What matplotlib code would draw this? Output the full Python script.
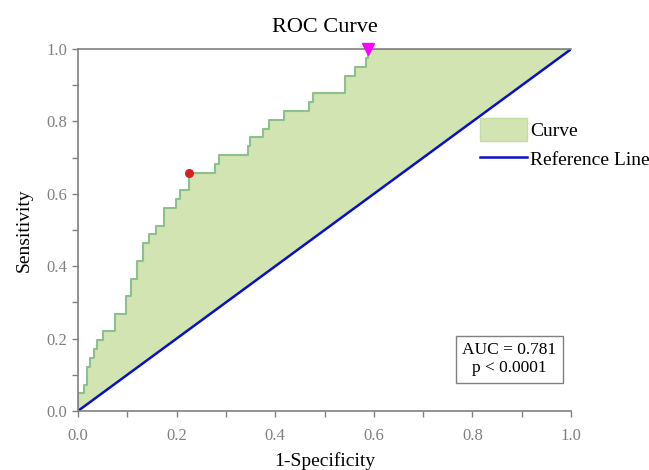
import numpy as np
import matplotlib
matplotlib.use("Agg")
import matplotlib.pyplot as plt
from matplotlib.patches import Patch
from matplotlib.lines import Line2D

# ROC step points (1-specificity where sensitivity rises, new sensitivity)
fpr = [0.0, 0.0126, 0.0185, 0.0252, 0.0336, 0.0395, 0.0504, 0.0756, 0.0966,
       0.1076, 0.1193, 0.1319, 0.1445, 0.158, 0.1748, 0.1992, 0.2076, 0.2244,
       0.2773, 0.2857, 0.3445, 0.3487, 0.3756, 0.3866, 0.4176, 0.4689, 0.4765,
       0.542, 0.5613, 0.584, 0.588]
tpr = [0.049, 0.073, 0.122, 0.146, 0.171, 0.195, 0.220, 0.268, 0.317,
       0.366, 0.415, 0.463, 0.488, 0.512, 0.561, 0.585, 0.610, 0.659,
       0.683, 0.707, 0.732, 0.756, 0.780, 0.805, 0.829, 0.854, 0.878,
       0.927, 0.951, 0.976, 1.0]
best_point = (0.2244, 0.659)
top_point = (0.588, 1.0)
auc_text = "AUC = 0.781\np < 0.0001"

plt.rcParams['font.family'] = ['Liberation Serif', 'DejaVu Serif']

# build step vertices
xs = [0.0]
ys = [0.0]
for x, y in zip(fpr, tpr):
    xs += [x, x]
    ys += [ys[-1], y]
xs.append(1.0)
ys.append(1.0)
xs = np.array(xs)
ys = np.array(ys)

fig = plt.figure(figsize=(6.49, 4.70), dpi=100)
ax = fig.add_axes([0.120, 0.1255, 0.760, 0.770])

fill_c = '#d2e4b1'
edge_c = '#8cc08c'
gray = '#808080'

ax.fill_between(xs, ys, xs, color=fill_c, lw=0)
ax.plot(xs, ys, color=edge_c, lw=1.5)
ax.plot([0, 1], [0, 1], color='#0a10c8', lw=1.8)
ax.plot(*best_point, 'o', color='#d42222', ms=5.5)
ax.plot(*top_point, 'v', color='#ff00ff', ms=8, clip_on=False, zorder=5)

ax.set_xlim(0, 1)
ax.set_ylim(0, 1)
ax.set_xticks(np.arange(0, 1.01, 0.2))
ax.set_xticks(np.arange(0, 1.01, 0.1), minor=True)
ax.set_yticks(np.arange(0, 1.01, 0.2))
ax.set_yticks(np.arange(0, 1.01, 0.1), minor=True)
ax.xaxis.set_major_formatter(plt.FormatStrFormatter('%.1f'))
ax.yaxis.set_major_formatter(plt.FormatStrFormatter('%.1f'))
ax.tick_params(which='both', direction='out', length=4, width=1, colors=gray,
               labelsize=12, labelcolor=gray)
ax.tick_params(axis='x', pad=8)

for s in ['left', 'bottom', 'top']:
    ax.spines[s].set_color(gray)
    ax.spines[s].set_linewidth(1.2)
ax.spines['right'].set_visible(False)

ax.set_title('ROC Curve', fontsize=16, pad=12)
ax.set_xlabel('1-Specificity', fontsize=14, labelpad=6)
ax.set_ylabel('Sensitivity', fontsize=14, labelpad=10)

handles = [Patch(facecolor=fill_c, edgecolor='#c4dca8', label='Curve'),
           Line2D([], [], color='#0a10c8', lw=1.8, label='Reference Line')]
ax.legend(handles=handles, loc='upper left', bbox_to_anchor=(0.80, 0.83),
          frameon=False, fontsize=14, handlelength=2.4, handleheight=1.4,
          handletextpad=0.15, labelspacing=0.35, borderaxespad=0)

ax.text(0.875, 0.143, auc_text, transform=ax.transAxes, ha='center',
        va='center', fontsize=12.5, linespacing=1.2,
        bbox=dict(boxstyle='square,pad=0.35', facecolor='white',
                  edgecolor=gray, lw=1))

fig.savefig('out.png', dpi=100)
